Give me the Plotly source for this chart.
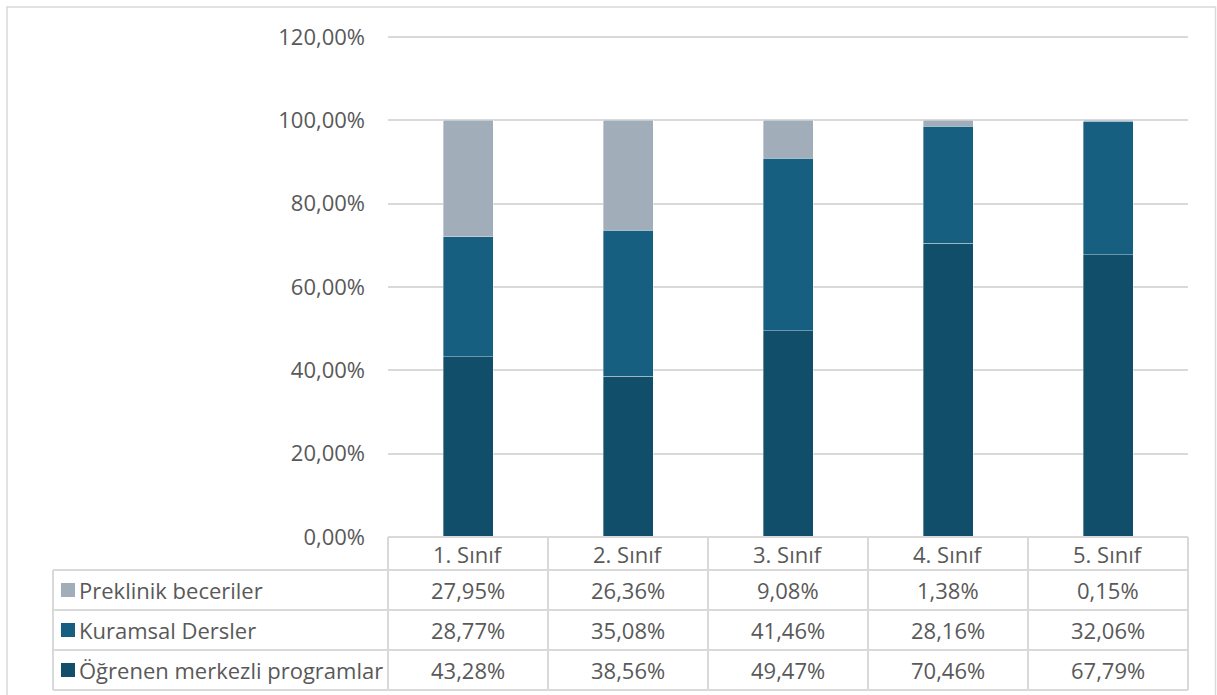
import plotly.graph_objects as go

categories = ["1. Sınıf", "2. Sınıf", "3. Sınıf", "4. Sınıf", "5. Sınıf"]
series_names = ["Öğrenen merkezli programlar", "Kuramsal Dersler", "Preklinik beceriler"]
ogrenen = [43.28, 38.56, 49.47, 70.46, 67.79]
kuramsal = [28.77, 35.08, 41.46, 28.16, 32.06]
preklinik = [27.95, 26.36, 9.08, 1.38, 0.15]
y_ticks = [0, 20, 40, 60, 80, 100, 120]
colors = {"Öğrenen merkezli programlar": "#104E69",
          "Kuramsal Dersler": "#175F80",
          "Preklinik beceriler": "#A1AEB9"}

W, H = 1217, 695
YMAX = 120.5
L, R, B = 388, 1188, 537
T = B - (B - 37) * YMAX / 120  # plot top so that 120% sits at y=37

def fmt(v):
    return f"{v:.2f}".replace(".", ",") + "%"

def px(x):
    return (x - L) / (R - L)

def py(y):
    return (B - y) / (B - T)

fig = go.Figure()
vals = {"Öğrenen merkezli programlar": ogrenen, "Kuramsal Dersler": kuramsal, "Preklinik beceriler": preklinik}
for name in series_names:
    fig.add_trace(go.Bar(x=categories, y=vals[name], name=name,
                         marker=dict(color=colors[name], line=dict(color="rgba(255,255,255,0.45)", width=0.8)),
                         width=0.3125, showlegend=False))

font_main = "'Open Sans', sans-serif"
FS = 22
txt_color = "#595959"
grid_color = "#D9D9D9"

fig.update_layout(
    width=W, height=H, barmode="stack",
    margin=dict(l=L, r=W - R, t=T, b=H - B, autoexpand=False),
    paper_bgcolor="white", plot_bgcolor="white",
    font=dict(family=font_main, color=txt_color, size=FS),
    xaxis=dict(showticklabels=False, showgrid=False, zeroline=False, showline=False, ticks=""),
    yaxis=dict(range=[0, YMAX], tickvals=y_ticks, ticktext=[fmt(v) for v in y_ticks],
               showgrid=True, gridcolor=grid_color, gridwidth=2, zeroline=False,
               showline=False, ticks="", ticklabelstandoff=22,
               tickfont=dict(size=FS, color=txt_color)),
)

shapes = []
lc = dict(color=grid_color, width=2)
shapes.append(dict(type="rect", xref="paper", yref="paper", x0=px(7), x1=px(1215.5), y0=py(7), y1=py(700),
                   line=dict(color="#D9D9D9", width=1.5), layer="below"))
row_y = [537, 570, 610, 650, 690]
col_x = [388, 548, 708, 868, 1028, 1188]
table_left = 53
shapes.append(dict(type="line", xref="paper", yref="paper", x0=px(388), x1=px(1188), y0=py(537), y1=py(537), line=lc))
for yy in row_y[1:]:
    shapes.append(dict(type="line", xref="paper", yref="paper", x0=px(table_left), x1=px(1188), y0=py(yy), y1=py(yy), line=lc))
for xx in col_x:
    shapes.append(dict(type="line", xref="paper", yref="paper", x0=px(xx), x1=px(xx), y0=py(537), y1=py(690), line=lc))
shapes.append(dict(type="line", xref="paper", yref="paper", x0=px(table_left), x1=px(table_left), y0=py(570), y1=py(690), line=lc))

annotations = []
for i, c in enumerate(categories):
    cx = (col_x[i] + col_x[i + 1]) / 2
    annotations.append(dict(xref="paper", yref="paper", x=px(cx), y=py((537 + 570) / 2 + 1), text=c,
                            showarrow=False, xanchor="center", yanchor="middle", font=dict(size=FS, color=txt_color)))
row_series = ["Preklinik beceriler", "Kuramsal Dersler", "Öğrenen merkezli programlar"]
for r, name in enumerate(row_series):
    cy = (row_y[r + 1] + row_y[r + 2]) / 2
    shapes.append(dict(type="rect", xref="paper", yref="paper", x0=px(61), x1=px(75), y0=py(cy - 7), y1=py(cy + 7),
                       fillcolor=colors[name], line=dict(width=0)))
    annotations.append(dict(xref="paper", yref="paper", x=px(77), y=py(cy), text=name, showarrow=False,
                            xanchor="left", yanchor="middle", font=dict(size=FS, color=txt_color)))
    for i, v in enumerate(vals[name]):
        cx = (col_x[i] + col_x[i + 1]) / 2
        annotations.append(dict(xref="paper", yref="paper", x=px(cx), y=py(cy), text=fmt(v), showarrow=False,
                                xanchor="center", yanchor="middle", font=dict(size=FS, color=txt_color)))

fig.update_layout(shapes=shapes, annotations=annotations)
fig.write_html("out.html", config={"displayModeBar": False},
               post_script="document.body.style.margin='0px';")
